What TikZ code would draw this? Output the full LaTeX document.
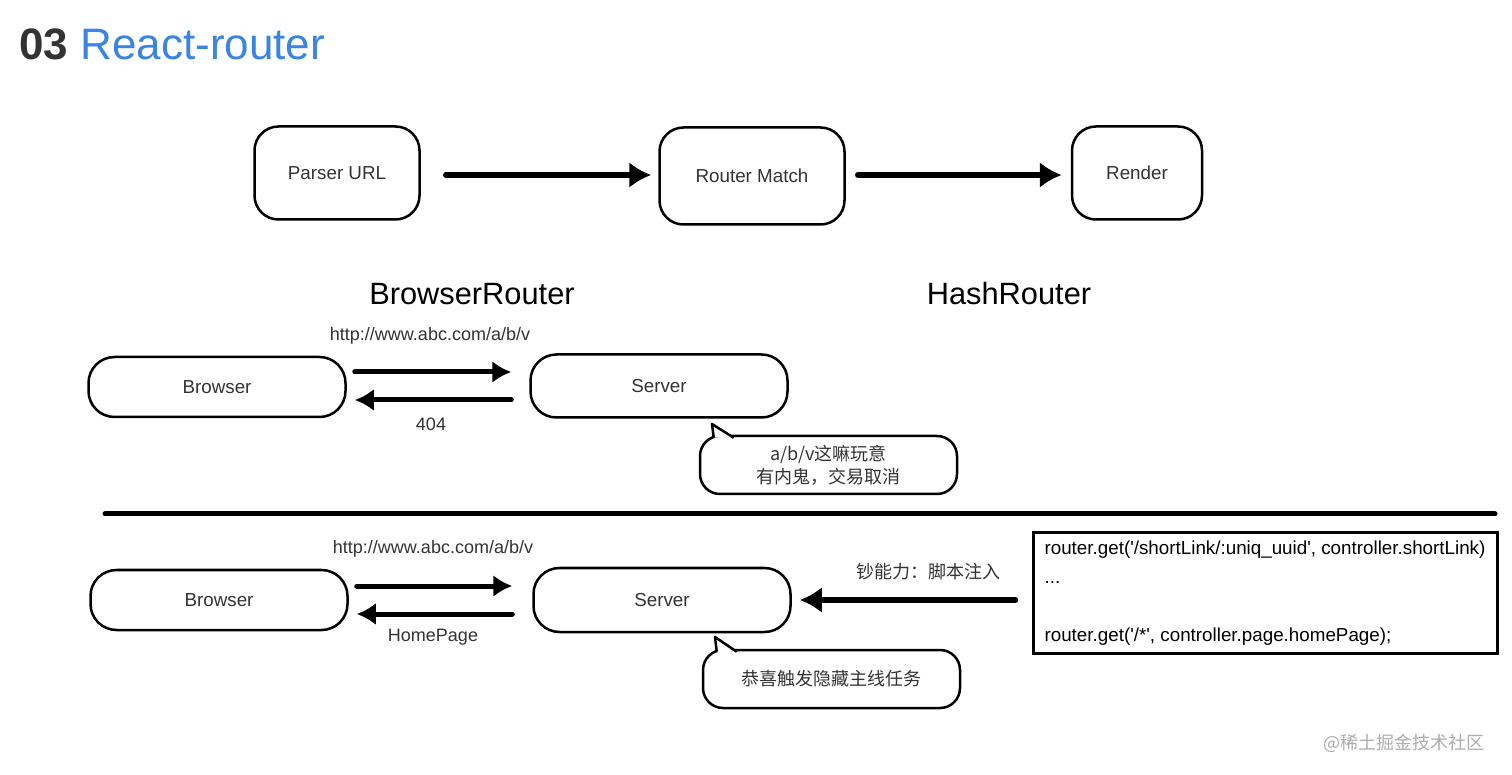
\documentclass[tikz,border=0pt]{standalone}
\usepackage{fontspec}
\setmainfont{Liberation Sans}
\newfontfamily\cjk{Noto Sans CJK SC}
\usetikzlibrary{arrows.meta,positioning}
\definecolor{pText}{gray}{0.2}
\definecolor{pTitle}{HTML}{3A84E4}
\definecolor{pMark}{gray}{0.68}
\newcommand{\sq}{\textquotesingle}
\tikzset{
    box/.style={draw, rounded corners=12pt, line width=1.25pt, text=pText, font=\fontsize{9.4}{11}\selectfont},
    pill/.style={box, minimum width=128.5pt, minimum height=30pt, rounded corners=13pt},
    bubble/.style={draw, rounded corners=10pt, line width=1.25pt, fill=white, minimum width=128.5pt, minimum height=29pt, align=center, text=pText, font=\fontsize{9}{11.5}\selectfont\cjk},
    flow/.style={-{Latex[length=11pt,width=13pt]}, line width=2.7pt, line cap=round},
    flowS/.style={-{Latex[length=9.5pt,width=11pt]}, line width=2.5pt, line cap=round},
    lbl/.style={text=pText, font=\fontsize{9}{11}\selectfont},
    head/.style={text=black, font=\fontsize{15.4}{18}\selectfont}
}

\begin{document}
\begin{tikzpicture}[x=0.5pt,y=-0.5pt]
\useasboundingbox[fill=white] (0,0) rectangle (1512,775);
% title
\node[anchor=base west,inner sep=0pt,font=\fontsize{22}{26}\selectfont] (title) at (19,60)
    {\textcolor{pText}{\textbf{03}} \textcolor{pTitle}{React-router}};
% top flow
\node[box,minimum width=82.5pt,minimum height=46.5pt] (parser) at (337,173) {Parser URL};
\node[box,minimum width=92.5pt,minimum height=48.5pt] (match) at (752,176) {Router Match};
\node[box,minimum width=65pt,minimum height=46.5pt] (render) at (1137,173) {Render};
\draw[flow] ([shift={(25,2)}]parser.east) -- ([shift={(-7,-1)}]match.west);
\draw[flow] ([shift={(12,-1)}]match.east) -- ([shift={(-9,2)}]render.west);
% headings
\node[head,anchor=base] (browserRouter) at (472,305) {BrowserRouter};
\node[head,anchor=base] (hashRouter) at (1009,305) {HashRouter};
% browser router, request ends in 404
\node[pill] (browserA) at (217,387) {Browser};
\node[pill,minimum height=31.5pt] (serverA) at (659,386) {Server};
\draw[flowS] ([shift={(8,-15)}]browserA.east) -- ([shift={(-18,-14)}]serverA.west);
\draw[flowS] ([shift={(-18,14)}]serverA.west) -- ([shift={(8,13)}]browserA.east);
\node[lbl] (urlA) at (430,336) {http://www.abc.com/a/b/v};
\node[lbl] (notFound) at (431,424) {404};
\node[bubble] (bubbleA) at (828.5,465) {a/b/v这嘛玩意\\有内鬼，交易取消};
\draw[line width=1.25pt,fill=white,line join=round] ([shift={(15,3)}]bubbleA.north west) -- (712,424) -- ([shift={(35,3)}]bubbleA.north west);
% divider
\draw[line width=2.5pt,line cap=round] (105,514) -- (1495,514);
% server falls back to home page
\node[pill] (browserB) at (219,600) {Browser};
\node[pill,minimum height=32pt] (serverB) at (662,600) {Server};
\draw[flowS] ([shift={(8,-14)}]browserB.east) -- ([shift={(-20,-14)}]serverB.west);
\draw[flowS] ([shift={(-20,14)}]serverB.west) -- ([shift={(8,14)}]browserB.east);
\node[lbl] (urlB) at (433,549) {http://www.abc.com/a/b/v};
\node[lbl] (homePage) at (433,637) {HomePage};
\node[bubble] (bubbleB) at (831.5,679) {恭喜触发隐藏主线任务};
\draw[line width=1.25pt,fill=white,line join=round] ([shift={(15,3)}]bubbleB.north west) -- (715,637) -- ([shift={(35,3)}]bubbleB.north west);
\node[draw,line width=1.5pt,minimum width=232pt,minimum height=60pt,align=left,text=black,
    font=\fontsize{9.4}{14.5}\selectfont] (code) at (1265,593)
    {router.get(\sq/shortLink/:uniq\_uuid\sq, controller.shortLink)\\...\\\mbox{}\\router.get(\sq/*\sq, controller.page.homePage);};
\draw[flow] ([shift={(-16,7)}]code.west) -- ([shift={(8,0)}]serverB.east);
\node[lbl,font=\fontsize{9}{11}\selectfont\cjk] (inject) at (928,572) {钞能力：脚本注入};
% watermark
\node[anchor=east,text=pMark,font=\fontsize{9}{11}\selectfont\cjk] (mark) at (1492,743) {@稀土掘金技术社区};
\end{tikzpicture}
\end{document}
